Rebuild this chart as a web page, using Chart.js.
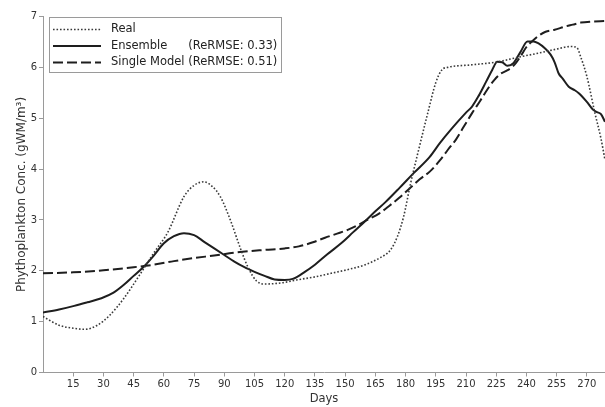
<!DOCTYPE html>
<html>
<head>
    <meta charset="UTF-8">
    <title>Phythoplankton Conc.</title>
    <script src="https://cdn.jsdelivr.net/npm/chart.js"></script>
    <style>
        body {
            margin: 0;
            padding: 0;
            background: #fff;
        }
        canvas {
            display: block;
        }
    </style>
</head>
<body>
    <canvas id="graph" width="605" height="407"></canvas>

    <script>
        // Observed series
        const realDays = [0, 8, 15, 21, 27, 33, 40, 48, 55, 62, 70, 75, 80, 84, 88, 93, 98, 102, 106, 110,
            118, 126, 135, 143, 152, 160, 167, 172.5, 176, 179, 182.5, 186, 191, 195, 198, 201, 213, 226,
            236, 246, 255, 262, 265, 267, 270, 274, 277, 279];
        const realValues = [1.10, 0.93, 0.87, 0.85, 0.93, 1.12, 1.45, 1.92, 2.35, 2.76, 3.46, 3.68, 3.75, 3.66, 3.46, 3.00, 2.44, 2.05, 1.80, 1.74,
            1.76, 1.82, 1.88, 1.95, 2.03, 2.12, 2.25, 2.41, 2.68, 3.06, 3.72, 4.30, 5.10, 5.70, 5.95, 6.00, 6.05, 6.11,
            6.20, 6.28, 6.36, 6.41, 6.39, 6.20, 5.82, 5.10, 4.60, 4.18];

        // Ensemble prediction
        const ensDays = [0, 8, 15.5, 22, 29, 35, 40, 45, 50, 55, 60, 65, 70, 75, 80, 85, 90, 95, 100, 105,
            110, 115, 120, 124, 130, 135, 141, 148, 154, 160, 165, 170, 177, 184, 192, 197, 203, 210, 213, 216,
            220, 223, 225.5, 228, 230.5, 233.5, 237, 240.5, 243.5, 246, 249, 252, 254, 256, 258, 261, 264, 266,
            270, 273, 275, 277, 279];
        const ensValues = [1.18, 1.24, 1.31, 1.38, 1.46, 1.57, 1.72, 1.90, 2.08, 2.30, 2.54, 2.68, 2.74, 2.70, 2.57, 2.44, 2.31, 2.18, 2.07, 1.98,
            1.90, 1.83, 1.82, 1.84, 1.98, 2.12, 2.32, 2.54, 2.76, 2.98, 3.17, 3.35, 3.63, 3.92, 4.24, 4.51, 4.80, 5.11, 5.23, 5.42,
            5.72, 5.95, 6.11, 6.10, 6.03, 6.08, 6.30, 6.51, 6.51, 6.47, 6.38, 6.25, 6.10, 5.88, 5.78, 5.62, 5.55, 5.49,
            5.32, 5.17, 5.12, 5.08, 4.93];

        // Single model prediction
        const singleDays = [0, 15, 30, 45, 55, 65, 75, 85, 96, 110, 120, 127, 134, 140, 146, 151, 156, 161, 167, 172,
            177, 182, 187, 192, 197, 201, 205, 209, 213, 217, 221, 224, 227, 230, 233, 235, 237, 240, 243, 246,
            249.5, 254, 259, 263, 267, 272, 279];
        const singleValues = [1.95, 1.97, 2.01, 2.07, 2.12, 2.19, 2.25, 2.30, 2.36, 2.41, 2.44, 2.48, 2.56, 2.65, 2.73, 2.80, 2.89, 3.00, 3.13, 3.28,
            3.44, 3.62, 3.80, 3.95, 4.17, 4.38, 4.58, 4.84, 5.10, 5.34, 5.59, 5.75, 5.87, 5.93, 6.01, 6.10, 6.21, 6.40, 6.52, 6.62,
            6.70, 6.74, 6.80, 6.84, 6.88, 6.90, 6.91];

        const seriesNames = ['Real', 'Ensemble', 'Single Model'];
        const seriesScores = ['', '(ReRMSE: 0.33)', '(ReRMSE: 0.51)'];
        const xTicks = [15, 30, 45, 60, 75, 90, 105, 120, 135, 150, 165, 180, 195, 210, 225, 240, 255, 270];

        const FONT = "'DejaVu Sans', Verdana, sans-serif";

        function points(days, values) {
            return days.map((d, i) => ({ x: d, y: values[i] }));
        }

        // Legend box in the upper-left corner of the plot
        const legendBox = {
            id: 'legendBox',
            afterDraw(chart) {
                const c = chart.ctx;
                const left = 49.5, top = 17.5, w = 232, h = 55;
                c.save();
                c.fillStyle = '#fff';
                c.fillRect(left, top, w, h);
                c.strokeStyle = '#9a9a9a';
                c.lineWidth = 1;
                c.strokeRect(left, top, w, h);

                c.font = '11.5px ' + FONT;
                c.textBaseline = 'middle';
                c.fillStyle = '#222';
                const textX = 111;
                let scoreX = 0;
                seriesNames.forEach(n => { scoreX = Math.max(scoreX, textX + c.measureText(n + ' ').width); });

                const rows = [29.5, 46, 62.5];
                chart.data.datasets.forEach((ds, i) => {
                    const y = rows[i];
                    c.beginPath();
                    c.setLineDash(ds.borderDash || []);
                    c.strokeStyle = ds.borderColor;
                    c.lineWidth = ds.borderWidth;
                    c.moveTo(53, y);
                    c.lineTo(101, y);
                    c.stroke();
                    c.setLineDash([]);
                    c.fillText(seriesNames[i], textX, y);
                    if (seriesScores[i]) c.fillText(seriesScores[i], scoreX, y);
                });
                c.restore();
            }
        };

        const ctx = document.getElementById('graph').getContext('2d');
        const chart = new Chart(ctx, {
            type: 'line',
            data: {
                datasets: [{
                    label: seriesNames[0],
                    data: points(realDays, realValues),
                    borderColor: '#3a3a3a',
                    borderWidth: 1.6,
                    borderDash: [1.6, 1.9]
                }, {
                    label: seriesNames[1] + ' ' + seriesScores[1],
                    data: points(ensDays, ensValues),
                    borderColor: '#1e1e1e',
                    borderWidth: 2
                }, {
                    label: seriesNames[2] + ' ' + seriesScores[2],
                    data: points(singleDays, singleValues),
                    borderColor: '#1e1e1e',
                    borderWidth: 2,
                    borderDash: [10, 4]
                }]
            },
            options: {
                responsive: false,
                animation: false,
                layout: { padding: { top: 16.5, right: 0, bottom: 0, left: 0 } },
                elements: {
                    point: { radius: 0 },
                    line: { cubicInterpolationMode: 'monotone', fill: false }
                },
                plugins: {
                    legend: { display: false },
                    tooltip: { enabled: false }
                },
                scales: {
                    x: {
                        type: 'linear',
                        min: 0,
                        max: 279,
                        afterBuildTicks: scale => { scale.ticks = xTicks.map(v => ({ value: v })); },
                        afterFit: scale => { scale.height = 34.5; },
                        grid: { drawOnChartArea: false, tickLength: 4, color: '#9a9a9a' },
                        border: { color: '#9a9a9a' },
                        ticks: { color: '#333', padding: 2, maxRotation: 0, autoSkip: false, font: { family: FONT, size: 10 } },
                        title: { display: true, text: 'Days', color: '#333', padding: { top: 0, bottom: 1 }, font: { family: FONT, size: 11.5 } }
                    },
                    y: {
                        min: 0,
                        max: 7,
                        afterFit: scale => { scale.width = 43; },
                        grid: { drawOnChartArea: false, tickLength: 4, color: '#9a9a9a' },
                        border: { color: '#9a9a9a' },
                        ticks: { stepSize: 1, color: '#333', padding: 2, font: { family: FONT, size: 10 } },
                        title: { display: true, text: 'Phythoplankton Conc. (gWM/m³)', color: '#333', padding: { top: 15, bottom: 0 }, font: { family: FONT, size: 12 } }
                    }
                }
            },
            plugins: [legendBox]
        });
    </script>
</body>
</html>
